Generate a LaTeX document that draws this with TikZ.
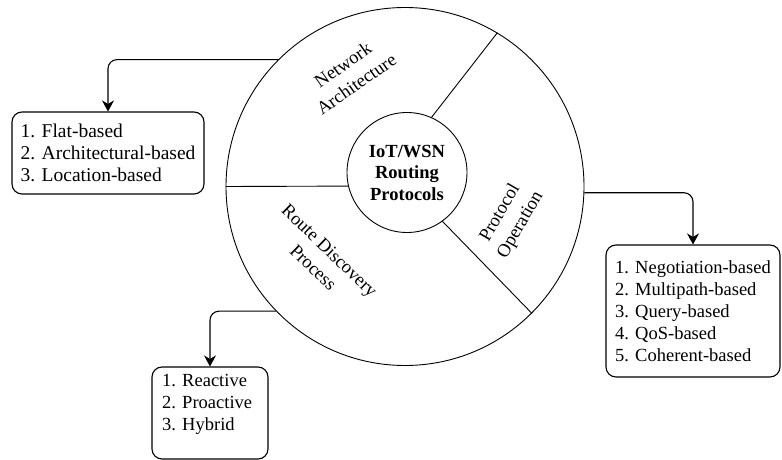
\documentclass[tikz,border=0pt]{standalone}
\usepackage{fontspec}
\setmainfont{Liberation Serif}
\usetikzlibrary{arrows.meta}
\begin{document}
\begin{tikzpicture}[x=1pt,y=-1pt,
  thinline/.style={line width=0.9pt},
  listfont/.style={font=\fontsize{18.5}{22}\selectfont},
  listbox/.style={draw, line width=1.1pt, rounded corners=10pt, align=left, listfont},
  sector/.style={align=center, font=\fontsize{18.5}{23.5}\selectfont},
  feed/.style={line width=1.1pt, rounded corners=9pt, -{Stealth[length=11pt,width=12pt,inset=3.5pt]}}]
\useasboundingbox (0,0) rectangle (782,460);
\fill[white] (0,0) rectangle (782,460);
\node[circle, draw, thinline, minimum size=358pt, inner sep=0] (outer) at (405,186.5) {};
\node[circle, draw, thinline, minimum size=120pt, inner sep=0, align=center, font=\bfseries\fontsize{18.5}{21.5}\selectfont] (core) at (407,172.5) {IoT/WSN\\Routing\\Protocols};
\draw[thinline] (outer.180) -- (core.193);
\draw[thinline] (outer.59) -- (core.66);
\draw[thinline] (outer.-45) -- (core.-54);
\node[sector, rotate=35] (na) at (349.5,74.5) {Network\\Architecture};
\node[sector, rotate=-44] (rd) at (321.5,259) {Route Discovery\\Process};
\node[sector, rotate=60] (po) at (510.5,219) {Protocol\\Operation};
\node[listbox, minimum width=192pt, minimum height=82pt, font=\fontsize{19.5}{21.8}\selectfont] (flat) at (108,153) {1. Flat-based\\2. Architectural-based\\3. Location-based};
\node[listbox, minimum width=174pt, minimum height=132pt] (nego) at (693,311) {1. Negotiation-based\\2. Multipath-based\\3. Query-based\\4. QoS-based\\5. Coherent-based};
\node[listbox, minimum width=116pt, minimum height=92pt] (react) at (210,413) {};
\node[anchor=north west, inner sep=0, align=left, listfont] (reactlist) at (162,374) {1. Reactive\\2. Proactive\\3. Hybrid};
\draw[feed] (outer.135.3) -| (flat.north);
\draw[feed] (outer.224) -| (react.north);
\draw[feed] (outer.-2.7) -| (nego.north);
\end{tikzpicture}
\end{document}
